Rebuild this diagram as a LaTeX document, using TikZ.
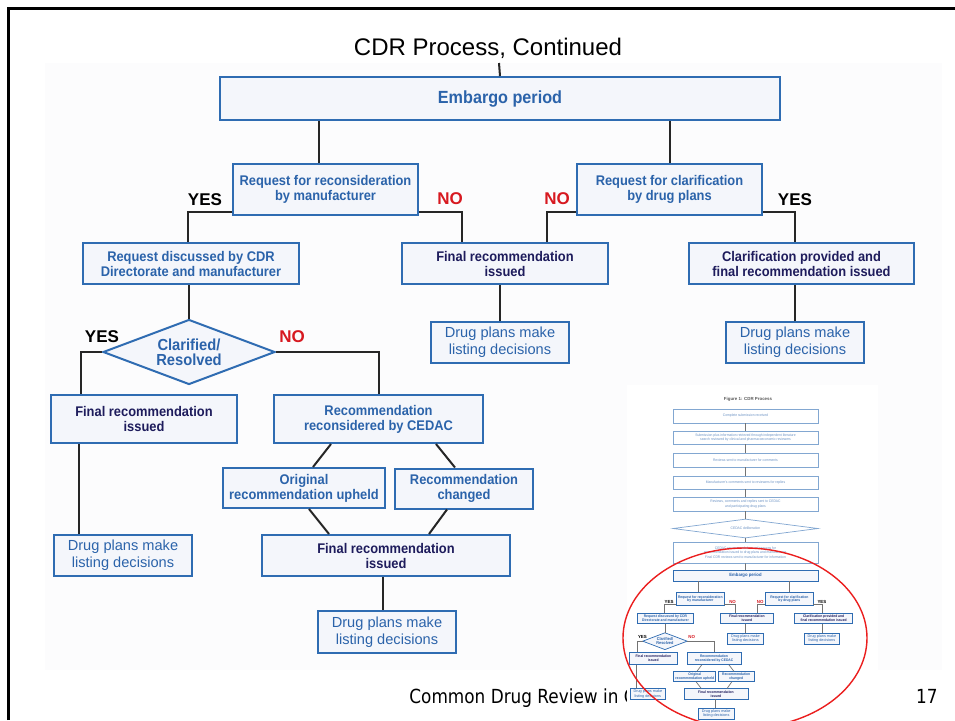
\documentclass[tikz,border=0pt]{standalone}
\usepackage{xcolor}
\usepackage{fontspec}
\setmainfont{Liberation Sans}
\newfontfamily\boxfont[FakeStretch=0.92]{Liberation Sans}
\newfontfamily\footfont[FakeStretch=0.87]{DejaVu Sans}
\usepackage{tikz}
\usetikzlibrary{shapes.geometric,calc}

\definecolor{boxblue}{RGB}{47,108,178}
\definecolor{boxfill}{RGB}{244,246,251}
\definecolor{textblue}{RGB}{43,99,170}
\definecolor{navytext}{RGB}{30,28,92}
\definecolor{nored}{RGB}{215,25,32}
\definecolor{chartbg}{RGB}{252,252,253}
\definecolor{ringred}{RGB}{235,30,30}

\tikzset{
  cdrbox/.style={draw=boxblue, fill=boxfill, line width=1pt, align=center, inner sep=1pt,
    text=textblue, font=\boxfont\bfseries\fontsize{7}{7.5}\selectfont},
  finalbox/.style={cdrbox, text=navytext},
  planbox/.style={cdrbox, font=\fontsize{7.3}{8.5}\selectfont},
  link/.style={draw=black!85, line width=1pt},
  yeslabel/.style={inner sep=0pt, text=black, font=\bfseries\fontsize{8.5}{8.5}\selectfont},
  nolabel/.style={yeslabel, text=nored},
  tbox/.style={draw=boxblue!60, fill=white, line width=0.35pt, minimum width=72.5pt, align=center,
    inner sep=0.3pt, text=textblue!70, font=\boxfont\fontsize{1.8}{2.1}\selectfont},
  tlink/.style={draw=black!55, line width=0.35pt},
  % the lower part of the CDR flow chart (used full size and in the thumbnail)
  cdrchart/.pic={
    % embargo and the two requests
    \node[cdrbox, minimum width=280pt, minimum height=21.5pt,
      font=\boxfont\bfseries\fontsize{8.8}{9}\selectfont] (embargo) at (500,98.5) {Embargo period};
    \node[cdrbox, minimum width=92.5pt, minimum height=25.5pt] (reqrecon) at (325.5,189.5) {Request for reconsideration\\by manufacturer};
    \node[cdrbox, minimum width=92.5pt, minimum height=25.5pt] (reqclar) at (669.5,189.5) {Request for clarification\\by drug plans};

    % second row
    \node[cdrbox, minimum width=108pt, minimum height=20.5pt] (discuss) at (191,263.5) {Request discussed by CDR\\Directorate and manufacturer};
    \node[finalbox, minimum width=103pt, minimum height=20.5pt] (finalmid) at (505,263.5) {Final recommendation\\issued};
    \node[finalbox, minimum width=112.5pt, minimum height=20.5pt] (clarprov) at (801.5,263.5) {Clarification provided and\\final recommendation issued};
    \node[planbox, minimum width=69pt, minimum height=20.5pt] (dpmid) at (500,342.5) {Drug plans make\\listing decisions};
    \node[planbox, minimum width=69pt, minimum height=20.5pt] (dpright) at (795,342.5) {Drug plans make\\listing decisions};

    % left branch
    \node[cdrbox, diamond, aspect=2.65, inner sep=0pt, minimum width=86pt, minimum height=32.5pt,
      font=\boxfont\bfseries\fontsize{8}{7.5}\selectfont] (resolved) at (189,352) {Clarified/\\Resolved};
    \node[finalbox, minimum width=93pt, minimum height=24pt] (finalleft) at (144,419) {Final recommendation\\issued};
    \node[planbox, minimum width=69pt, minimum height=20.5pt] (dpleft) at (123,555.5) {Drug plans make\\listing decisions};
    \node[cdrbox, minimum width=104.5pt, minimum height=24pt] (reconsid) at (378.5,419) {Recommendation\\reconsidered by CEDAC};
    \node[cdrbox, minimum width=81pt, minimum height=20pt] (upheld) at (304,488) {Original\\recommendation upheld};
    \node[cdrbox, minimum width=69pt, minimum height=20pt] (changed) at (464,488.5) {Recommendation\\changed};
    \node[finalbox, minimum width=124pt, minimum height=20.5pt] (finalbot) at (386,555.5) {Final recommendation\\issued};
    \node[planbox, minimum width=69pt, minimum height=21pt] (dpbot) at (387,632) {Drug plans make\\listing decisions};

    % yes / no labels
    \node[yeslabel] (yesA) at (205,200) {YES};
    \node[nolabel] (noA) at (450,199) {NO};
    \node[nolabel] (noB) at (557,199) {NO};
    \node[yeslabel] (yesB) at (795,200) {YES};
    \node[yeslabel] (yesC) at (102,337) {YES};
    \node[nolabel] (noC) at (292,337) {NO};

    % connectors
    \draw[link] ($(reqrecon.north)+(-7,0)$) -- ($(reqrecon.north |- embargo.south)+(-7,0)$);
    \draw[link] (reqclar.north) -- (reqclar.north |- embargo.south);
    \draw[link] ($(reqrecon.south west)+(0,-4)$) -| ($(discuss.north)+(-3,0)$);
    \draw[link] ($(reqrecon.south east)+(0,-4)$) -| ($(finalmid.north)+(-43,0)$);
    \draw[link] ($(reqclar.south west)+(0,-4)$) -| ($(finalmid.north)+(42,0)$);
    \draw[link] ($(reqclar.south east)+(0,-4)$) -| (clarprov.north -| dpright.north);
    \draw[link] (dpmid.north) -- (dpmid.north |- finalmid.south);
    \draw[link] (dpright.north) -- (dpright.north |- clarprov.south);
    \draw[link] (resolved.north) -- (resolved.north |- discuss.south);
    \draw[link] (resolved.west) -| ($(finalleft.north)+(-63,0)$);
    \draw[link] (resolved.east) -| (reconsid.north);
    \draw[link] ($(finalleft.south)+(-65,0)$) -- ($(dpleft.north)+(-44,0)$);
    \draw[link] ($(reconsid.south)+(-47.5,0)$) -- ($(upheld.north)+(9,0)$);
    \draw[link] ($(reconsid.south)+(57.5,0)$) -- ($(changed.north)+(-9,0)$);
    \draw[link] ($(upheld.south)+(5,0)$) -- ($(finalbot.north)+(-57,0)$);
    \draw[link] ($(changed.south)+(-17,0)$) -- ($(finalbot.north)+(43,0)$);
    \draw[link] ($(finalbot.south)+(-3,0)$) -- ($(dpbot.north)+(-4,0)$);
  }
}

\begin{document}
\begin{tikzpicture}[x=0.5pt, y=-0.5pt]
  \useasboundingbox (0,0) rectangle (955,720);

  % slide frame, title and chart background
  \draw[line width=1.5pt] (8,720) -- (8,8) -- (955,8);
  \fill[chartbg] (45,63) rectangle (942,670);
  \node[anchor=base, inner sep=0pt, font=\fontsize{12}{12}\selectfont] (title) at (488,55.5) {CDR Process, Continued};
  \node[anchor=base west, inner sep=0pt, font=\footfont\fontsize{9.7}{10}\selectfont] (foot) at (409,703) {Common Drug Review in C};

  % main chart
  \pic {cdrchart};
  \coordinate (stubtop) at (499,63);
  \draw[link] (stubtop) -- (embargo.north);

  % thumbnail of the whole process
  \fill[white] (627,385) rectangle (878,720);
  \node[inner sep=0pt, text=black!65, font=\bfseries\fontsize{2.2}{2.2}\selectfont] (tfig) at (748,399) {Figure 1: CDR Process};
  \node[tbox, minimum height=7pt] (tb1) at (745.5,416) {Complete submission received};
  \node[tbox, minimum height=6.5pt] (tb2) at (745.5,437.5) {Submission plus information retrieved through independent literature\\search reviewed by clinical and pharmacoeconomic reviewers};
  \node[tbox, minimum height=7pt] (tb3) at (745.5,460) {Reviews sent to manufacturer for comments};
  \node[tbox, minimum height=6.5pt] (tb4) at (745.5,482.5) {Manufacturer's comments sent to reviewers for replies};
  \node[tbox, minimum height=7pt] (tb5) at (745.5,504) {Reviews, comments and replies sent to CEDAC\\and participating drug plans};
  \node[tbox, diamond, aspect=7.6, inner sep=0pt, minimum height=9.5pt] (tdelib) at (745.5,528.5) {CEDAC deliberation};
  \node[tbox, minimum height=10.5pt] (tb7) at (745.5,552.5) {CEDAC recommendation and reasons for\\recommendation issued to drug plans and manufacturer.\\Final CDR reviews sent to manufacturer for information};
  \begin{scope}[shift={(616,550)}, scale=0.259, transform shape,
      cdrbox/.append style={line width=0.35pt}, link/.append style={line width=0.35pt, draw=black!55}]
    \pic (th) {cdrchart};
  \end{scope}
  \draw[tlink] (tb1) -- (tb2);
  \draw[tlink] (tb2) -- (tb3);
  \draw[tlink] (tb3) -- (tb4);
  \draw[tlink] (tb4) -- (tb5);
  \draw[tlink] (tb5) -- (tdelib);
  \draw[tlink] (tdelib) -- (tb7);
  \draw[tlink] (tb7) -- (thembargo);

  % page number and the red ring round the part shown above
  \node[anchor=base east, inner sep=0pt, font=\footfont\fontsize{9.7}{10}\selectfont] (pagenum) at (938,703) {17};
  \draw[ringred, line width=0.7pt] (745,638) ellipse [x radius=61pt, y radius=45pt];
\end{tikzpicture}
\end{document}
